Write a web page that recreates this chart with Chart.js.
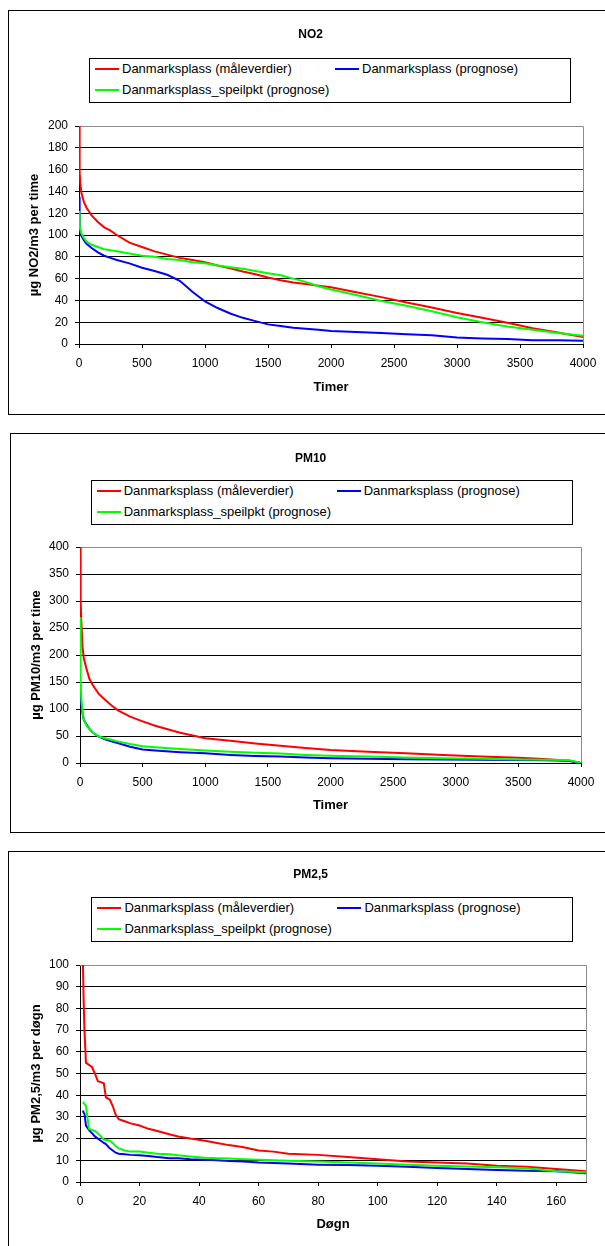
<!DOCTYPE html>
<html>
<head>
<meta charset="utf-8">
<script src="https://cdn.jsdelivr.net/npm/chart.js@4.4.1/dist/chart.umd.min.js"></script>
<style>
  html, body { margin: 0; padding: 0; background: #fff; overflow: hidden; width: 605px; height: 1246px; }
  .box { position: absolute; border: 1px solid #000; background: #fff; width: 600px; }
  .box canvas { position: absolute; left: 0; top: 0; }
  .ttl { position: absolute; transform: translate(-50%, -50%); font: bold 12px "Liberation Sans", Arial, sans-serif; color: #000; white-space: nowrap; }
  .legend { position: absolute; width: 480px; height: 43px; border: 1px solid #000; background: #fff;
            font: 13px "Liberation Sans", Arial, sans-serif; color: #000; }
  .item { position: absolute; white-space: nowrap; line-height: 16px; height: 16px; }
  .item i { display: inline-block; width: 24px; height: 2px; vertical-align: middle; margin-right: 3px; position: relative; top: -1px; }
</style>
</head>
<body>

<div class="box" id="box1" style="left:8px; top:10px; height:403px;">
  <canvas id="no2Chart"></canvas>
  <div class="ttl" style="left:301.6px; top:23px;">NO2</div>
  <div class="legend" id="leg1" style="left:80px; top:47px;"></div>
</div>

<div class="box" id="box2" style="left:10px; top:433px; height:398px;">
  <canvas id="pm10Chart"></canvas>
  <div class="ttl" style="left:299.6px; top:24px;">PM10</div>
  <div class="legend" id="leg2" style="left:79.7px; top:46px;"></div>
</div>

<div class="box" id="box3" style="left:8px; top:851px; height:410px;">
  <canvas id="pm25Chart"></canvas>
  <div class="ttl" style="left:301.6px; top:22px;">PM2,5</div>
  <div class="legend" id="leg3" style="left:82.4px; top:45px;"></div>
</div>

<script>
// series names + colours (same in all three charts)
const seriesNames = [
  "Danmarksplass (måleverdier)",
  "Danmarksplass (prognose)",
  "Danmarksplass_speilpkt (prognose)"
];
const seriesColors = ["#ff0000", "#0000ff", "#00ff00"];

// NO2 - hours sorted by concentration
const no2Hours = [0, 5, 10, 20, 40, 60, 100, 150, 200, 250, 300, 400, 500, 600, 700, 800, 900, 1000,
  1100, 1200, 1300, 1400, 1500, 1600, 1700, 1800, 1900, 2000, 2200, 2400, 2600, 2800, 3000, 3200,
  3400, 3600, 3800, 4000];
const no2Maale = [200, 157, 148, 138, 130, 125, 118, 112, 107, 104, 100, 93, 89, 85, 82, 79, 77, 75,
  72, 69.5, 66.5, 64, 61, 58.5, 56.5, 55, 53.5, 52, 47.5, 43, 38, 33.5, 28.5, 24,
  19.5, 14.5, 10.5, 6.5];
const no2Prognose = [135, 108, 103, 99, 95, 92, 88, 84, 81, 79, 77, 74, 70, 67, 63.5, 58, 48, 39,
  33, 28, 24, 21, 18, 16.5, 15, 14, 13, 12, 11, 10, 9, 8, 6, 5,
  4.5, 3.5, 3.5, 3];
const no2Speil = [122, 110, 105, 101, 97, 94, 91, 89, 87, 86, 85, 83, 81, 80, 78, 77, 75, 74,
  72, 70.5, 69, 67, 65, 63, 60, 57, 53, 50, 45, 39.5, 35, 30, 24.5, 20,
  16, 13, 10, 7.5];

// PM10 - hours
const pm10Hours = [0, 5, 10, 20, 30, 50, 75, 100, 150, 200, 250, 300, 400, 500, 600, 800, 1000,
  1200, 1400, 1600, 1800, 2000, 2300, 2600, 2900, 3200, 3500, 3700, 3900, 4000];
const pm10Maale = [400, 300, 265, 215, 195, 176, 156, 145, 128, 117, 107, 98, 86, 77, 69, 56, 46,
  41, 36, 32, 28, 24, 21, 18, 15, 12, 9.5, 7.5, 4, 0];
const pm10Prognose = [130, 118, 110, 92, 80, 72, 63, 57, 49, 44, 40, 37, 30, 25, 23, 20, 18,
  15, 13, 12, 10, 9, 8, 7, 6.5, 6, 5.5, 5, 4, 0];
const pm10Speil = [270, 160, 120, 95, 81, 70, 63, 57, 49, 46, 43, 40, 35, 31, 29, 26, 23,
  21, 19, 17.5, 15, 13.5, 12, 10, 9, 8, 6.5, 6, 5.5, 0];

// PM2,5 - days
const pm25Days = [1, 1.2, 1.5, 2, 3, 4, 5, 6, 7, 8, 8.7, 10, 11, 12, 13, 15, 17, 20, 23, 26,
  30, 33, 37, 42, 46, 50, 55, 60, 65, 70, 80, 90, 100, 110, 120, 130, 140, 150, 160, 170];
const pm25Maale = [100, 85, 70, 55, 54, 53, 50, 46.5, 46, 45.5, 39, 38, 35, 31, 29, 28, 27, 26, 24.5, 23.5,
  22, 21, 20, 19, 18, 17, 16, 14.5, 14, 13, 12.5, 11.5, 10.5, 9.5, 9, 8.5, 7.5, 7, 6, 5];
const pm25Prognose = [33, 32, 31.5, 26, 24, 22.5, 21, 20, 19, 18, 17.5, 15.5, 14.5, 13.5, 13, 12.8, 12.5, 12.3, 12, 11.5,
  11, 11, 10.5, 10.3, 10, 9.7, 9.5, 9, 8.8, 8.5, 8, 7.8, 7.5, 7, 6.5, 6, 5.5, 5.2, 5, 4];
const pm25Speil = [37, 36.5, 36, 35, 24.5, 24, 23.5, 22.5, 21, 19.5, 19.5, 19, 18, 16.5, 15.5, 14.5, 14, 14, 13.5, 13,
  12.8, 12.3, 11.8, 11.2, 11, 10.8, 10.5, 10.3, 10, 9.8, 9.5, 9, 8.5, 8, 7.5, 7.2, 6.8, 6.3, 5, 4.5];

// axis ticks
const hourTicks = [0, 500, 1000, 1500, 2000, 2500, 3000, 3500, 4000];
const dayTicks = [0, 20, 40, 60, 80, 100, 120, 140, 160];
const no2Ticks = [0, 20, 40, 60, 80, 100, 120, 140, 160, 180, 200];
const pm10Ticks = [0, 50, 100, 150, 200, 250, 300, 350, 400];
const pm25Ticks = [0, 10, 20, 30, 40, 50, 60, 70, 80, 90, 100];

const FONT = '"Liberation Sans", Arial, sans-serif';

// gray frame on top + right of the plot area
const plotFrame = {
  id: "plotFrame",
  beforeDatasetsDraw(chart) {
    const { ctx, chartArea: a } = chart;
    ctx.save();
    ctx.strokeStyle = "#8c8c8c";
    ctx.lineWidth = 1;
    ctx.beginPath();
    ctx.moveTo(a.left, Math.round(a.top) + 0.5);
    ctx.lineTo(Math.round(a.right) + 0.5, Math.round(a.top) + 0.5);
    ctx.lineTo(Math.round(a.right) + 0.5, a.bottom);
    ctx.stroke();
    ctx.restore();
  }
};

function buildLegend(id) {
  const leg = document.getElementById(id);
  const pos = [[5, 2], [245, 2], [5, 23]];
  seriesNames.forEach(function (name, i) {
    const d = document.createElement("div");
    d.className = "item";
    d.style.left = pos[i][0] + "px";
    d.style.top = pos[i][1] + "px";
    d.innerHTML = '<i style="background:' + seriesColors[i] + '"></i>' + name;
    leg.appendChild(d);
  });
}

function plainNumber(v) {
  return String(v);
}

function makeChart(canvasId, g) {
  const canvas = document.getElementById(canvasId);
  canvas.width = g.W;
  canvas.height = g.H;
  const datasets = g.series.map(function (vals, i) {
    return {
      label: seriesNames[i],
      data: g.xs.map(function (x, j) { return { x: x, y: vals[j] }; }),
      borderColor: seriesColors[i],
      backgroundColor: seriesColors[i],
      borderWidth: 2,
      pointRadius: 0,
      tension: 0,
      fill: false,
      order: 3 - i
    };
  });
  return new Chart(canvas, {
    type: "line",
    data: { datasets: datasets },
    plugins: [plotFrame],
    options: {
      responsive: false,
      animation: false,
      devicePixelRatio: 1,
      layout: { padding: { left: 0, top: g.top, right: g.W - g.right, bottom: 0 } },
      plugins: { legend: { display: false }, tooltip: { enabled: false }, title: { display: false } },
      scales: {
        x: {
          type: "linear",
          min: 0,
          max: g.xMax,
          afterBuildTicks: function (s) { s.ticks = g.xTicks.map(function (v) { return { value: v }; }); },
          afterFit: function (s) { s.height = g.H - g.bottom; },
          grid: { drawOnChartArea: false, drawTicks: true, tickLength: 4, tickColor: "#000" },
          border: { color: "#000", width: 1 },
          ticks: { color: "#000", padding: 8, maxRotation: 0, autoSkip: false, callback: plainNumber,
                   font: { family: FONT, size: 12 } },
          title: { display: true, text: g.xTitle, color: "#000", padding: { top: 0, bottom: g.xTitlePad },
                   font: { family: FONT, size: 13, weight: "bold" } }
        },
        y: {
          min: 0,
          max: g.yMax,
          afterBuildTicks: function (s) { s.ticks = g.yTicks.map(function (v) { return { value: v }; }); },
          afterFit: function (s) { s.width = g.left; },
          grid: {
            color: function (c) { return c.tick && c.tick.value === g.yMax ? "rgba(0,0,0,0)" : "#000"; },
            tickColor: "#000",
            tickLength: 4
          },
          border: { color: "#000", width: 1 },
          ticks: { color: "#000", padding: 7, autoSkip: false, callback: plainNumber,
                   font: { family: FONT, size: 12 } },
          title: { display: true, text: g.yTitle, color: "#000", padding: { top: g.yTitlePad, bottom: 0 },
                   font: { family: FONT, size: 13, weight: "bold" } }
        }
      }
    }
  });
}

buildLegend("leg1");
buildLegend("leg2");
buildLegend("leg3");

makeChart("no2Chart", {
  W: 600, H: 403, left: 70, top: 115, right: 574, bottom: 333,
  xs: no2Hours, series: [no2Maale, no2Prognose, no2Speil],
  xMax: 4000, xTicks: hourTicks, yMax: 200, yTicks: no2Ticks,
  xTitle: "Timer", yTitle: "µg NO2/m3 per time", xTitlePad: 19, yTitlePad: 18
});

makeChart("pm10Chart", {
  W: 600, H: 398, left: 69, top: 113, right: 570, bottom: 329,
  xs: pm10Hours, series: [pm10Maale, pm10Prognose, pm10Speil],
  xMax: 4000, xTicks: hourTicks, yMax: 400, yTicks: pm10Ticks,
  xTitle: "Timer", yTitle: "µg PM10/m3 per time", xTitlePad: 19, yTitlePad: 18
});

makeChart("pm25Chart", {
  W: 600, H: 410, left: 71, top: 113, right: 577, bottom: 330,
  xs: pm25Days, series: [pm25Maale, pm25Prognose, pm25Speil],
  xMax: 170, xTicks: dayTicks, yMax: 100, yTicks: pm25Ticks,
  xTitle: "Døgn", yTitle: "µg PM2,5/m3 per døgn", xTitlePad: 30, yTitlePad: 20
});
</script>
</body>
</html>
